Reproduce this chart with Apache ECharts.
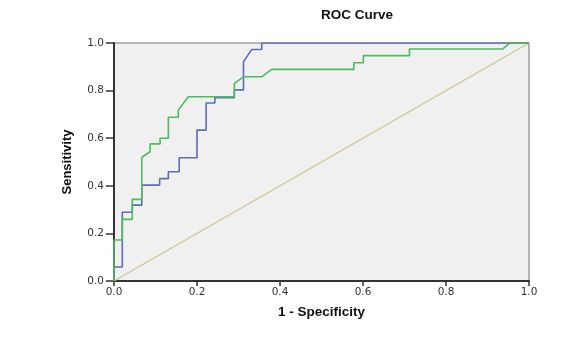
<!DOCTYPE html>
<html><head><meta charset="utf-8">
<script src="https://cdn.jsdelivr.net/npm/echarts@6/dist/echarts.min.js"></script>
<style>html,body{margin:0;padding:0;background:#fff}#c{width:569px;height:338px}</style>
</head><body><div id="c"></div>
<script>
var title = 'ROC Curve';
var xAxisTitle = '1 - Specificity';
var yAxisTitle = 'Sensitivity';
var tickLabels = ['0.0','0.2','0.4','0.6','0.8','1.0'];
var blueX = [0,0,0.02,0.02,0.044,0.044,0.067,0.067,0.11,0.11,0.131,0.131,0.157,0.157,0.2,0.2,0.222,0.222,0.243,0.243,0.29,0.29,0.312,0.312,0.332,0.356,0.356,1];
var blueY = [0,0.059,0.059,0.289,0.289,0.319,0.319,0.403,0.403,0.43,0.43,0.459,0.459,0.518,0.518,0.634,0.634,0.748,0.748,0.77,0.77,0.803,0.803,0.921,0.973,0.973,1,1];
var greenX = [0,0,0.02,0.02,0.044,0.044,0.067,0.067,0.087,0.087,0.111,0.111,0.131,0.131,0.155,0.155,0.179,0.29,0.29,0.312,0.356,0.38,0.578,0.578,0.601,0.601,0.712,0.712,0.937,0.954,1];
var greenY = [0,0.172,0.172,0.259,0.259,0.343,0.343,0.52,0.543,0.576,0.576,0.6,0.6,0.688,0.688,0.718,0.774,0.774,0.83,0.858,0.858,0.889,0.889,0.917,0.917,0.947,0.947,0.975,0.975,1,1];
var refX = [0,1];
var refY = [0,1];

function pairs(xs, ys){ return xs.map(function(x,i){return [x, ys[i]];}); }

var chart = echarts.init(document.getElementById('c'), null, {renderer:'canvas'});
var tickFont = {fontFamily:'DejaVu Sans', fontSize:10.5, color:'#333'};
chart.setOption({
  animation:false,
  backgroundColor:'#ffffff',
  title:{text:title, left:352, top:3, textAlign:'center',
    textStyle:{fontFamily:'Liberation Sans', fontWeight:'bold', fontSize:13.5, color:'#111'}},
  grid:{left:114, right:40, top:43, bottom:57, show:true, backgroundColor:'#f0f0f0', borderColor:'#777', borderWidth:1},
  xAxis:{type:'value', min:0, max:1, interval:0.2,
    name:xAxisTitle, nameLocation:'middle', nameGap:24,
    nameTextStyle:{fontFamily:'Liberation Sans', fontWeight:'bold', fontSize:13.5, color:'#111'},
    axisLine:{show:true, onZero:false, lineStyle:{color:'#333', width:2}},
    axisTick:{show:true, length:5, lineStyle:{color:'#333', width:1.5}},
    axisLabel:Object.assign({margin:6, formatter:function(v){return tickLabels[Math.round(v*5)];}}, tickFont),
    splitLine:{show:false}},
  yAxis:{type:'value', min:0, max:1, interval:0.2,
    name:yAxisTitle, nameLocation:'middle', nameGap:40, nameRotate:90,
    nameTextStyle:{fontFamily:'Liberation Sans', fontWeight:'bold', fontSize:13, color:'#111'},
    axisLine:{show:true, onZero:false, lineStyle:{color:'#333', width:2}},
    axisTick:{show:true, length:8, lineStyle:{color:'#333', width:1.5}},
    axisLabel:Object.assign({margin:10, formatter:function(v){return tickLabels[Math.round(v*5)];}}, tickFont),
    splitLine:{show:false}},
  series:[
    {type:'line', data:pairs(refX, refY), symbol:'none', lineStyle:{color:'#cdc48c', width:1.2}, z:1},
    {type:'line', data:pairs(blueX, blueY), symbol:'none', lineStyle:{color:'#5a6db5', width:1.6}, z:2},
    {type:'line', data:pairs(greenX, greenY), symbol:'none', lineStyle:{color:'#4dbb5e', width:1.6}, z:3}
  ]
});
</script></body></html>
